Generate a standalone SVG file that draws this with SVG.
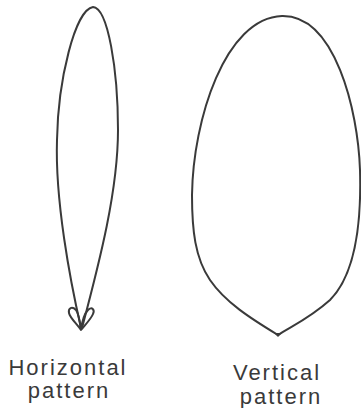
<svg xmlns="http://www.w3.org/2000/svg" width="361" height="408" viewBox="0 0 361 408">
<style>
.ln{fill:none;stroke:#3a3a3a;stroke-width:2;stroke-linecap:round;stroke-linejoin:round}
.lbl{font-family:"Liberation Sans",Arial,sans-serif;font-size:22px;fill:#3a3a3a;text-anchor:middle;letter-spacing:2px}
</style>
<rect width="361" height="408" fill="#fff"/>
<g id="horizontal">
<path class="ln" d="M 81,328 C 70,280 55,200 57,140 C 58,80 75,10 93,7 C 108,8 118,70 118,130 C 118,190 100,260 82,328"/>
<path class="ln" d="M 81,330 C 77,324 70,318 69,313 C 68,308 72,306 76,310 C 79,314 80,322 81,330 C 82,322 84,314 88,310 C 92,306 95,310 93,314 C 91,319 85,325 81,330 Z"/>
<text class="lbl" x="68" y="375">Horizontal</text>
<text class="lbl" x="69" y="398">pattern</text>
</g>
<g id="vertical">
<path class="ln" d="M 278,335 C 250,318 225,302 210,280 C 195,258 192,230 192,195 C 193,120 225,18 282,16 C 335,15 358,110 360,170 C 362,240 350,280 330,300 C 310,318 292,326 278,335 Z"/>
<path d="M 274,333 L 282,333 L 278,337 Z" fill="#3a3a3a"/>
<text class="lbl" x="277" y="380">Vertical</text>
<text class="lbl" x="281" y="404">pattern</text>
</g>
<g id="connectors"/>
</svg>
